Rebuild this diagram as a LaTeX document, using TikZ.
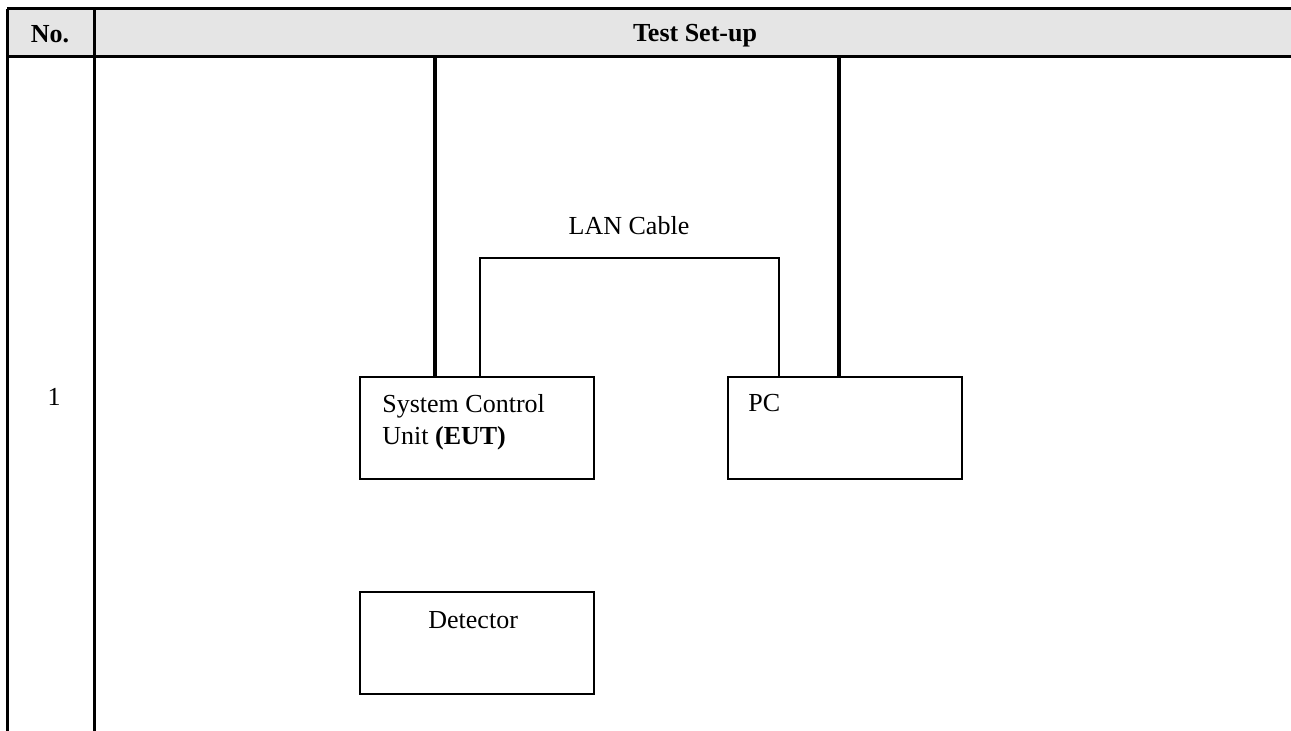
\documentclass[tikz,border=0pt]{standalone}
\usepackage{fontspec}
\setmainfont{Liberation Serif}
\usetikzlibrary{positioning}
\definecolor{headgray}{RGB}{229,229,229}

\begin{document}
\begin{tikzpicture}[x=0.5pt, y=-0.5pt, font=\fontsize{13}{16}\selectfont,
  unit/.style={draw, line width=1pt, minimum width=117pt, minimum height=51pt, inner sep=0pt},
  txt/.style={inner sep=0pt, align=left},
  rule/.style={line width=1.5pt},
  mains/.style={line width=2pt},
  lan/.style={line width=1pt}]

\useasboundingbox (0,0) rectangle (1291,731);

% table
\fill[headgray] (7,9) rectangle (1291,57);
\draw[rule] (7,9) -- (1291,9);
\draw[rule] (7,57) -- (1291,57);
\draw[rule] (7,9) -- (7,731);
\draw[rule] (94,9) -- (94,731);

\node[anchor=base, inner sep=0pt] (no) at (50,43) {\textbf{No.}};
\node[anchor=base, inner sep=0pt] (setup) at (695,42) {\textbf{Test Set-up}};
\node[anchor=base, inner sep=0pt] (one) at (54,406) {1};

% units
\node[unit] (scu) at (477,428) {};
\node[unit] (pc) at (844.5,428) {};
\node[unit] (det) at (477,643) {};

\node[txt, anchor=north west] (scutxt) at (382,394) {System Control\\Unit \textbf{(EUT)}};
\node[txt, anchor=north west] (pctxt) at (748,394) {PC};
\node[txt, anchor=north west] (dettxt) at (428,611) {Detector};
\node[anchor=base, inner sep=0pt] (lantxt) at (629,235) {LAN Cable};

% cables
\coordinate (pwrL) at (435,57);
\coordinate (pwrR) at (839,57);
\coordinate (lanL) at (480,258);
\coordinate (lanR) at (779,258);

\draw[mains] (pwrL) -- (pwrL |- scu.north);
\draw[mains] (pwrR) -- (pwrR |- pc.north);
\draw[lan] (lanL |- scu.north) -- (lanL) -- (lanR) -- (lanR |- pc.north);

\end{tikzpicture}
\end{document}
